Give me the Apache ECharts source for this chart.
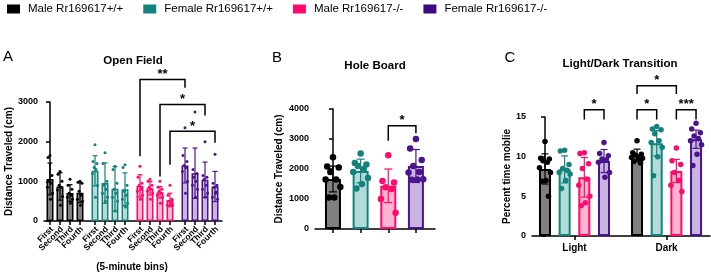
<!DOCTYPE html>
<html>
<head>
<meta charset="utf-8">
<title>Rr169617 behaviour</title>
<script src="https://cdn.jsdelivr.net/npm/echarts@6/dist/echarts.min.js"></script>
</head>
<body style="margin:0">
<div id="main" style="width:711px;height:274px;"></div>
<script>
var groups = ['Male Rr169617+/+', 'Female Rr169617+/+', 'Male Rr169617-/-', 'Female Rr169617-/-'];
var bins = ['First', 'Second', 'Third', 'Fourth'];
var phases = ['Light', 'Dark'];

// Open Field, distance (cm) per 5-minute bin: [group][bin]
var ofMean = [
  [1060, 870, 705, 715],
  [1265, 955, 810, 800],
  [885, 825, 725, 530],
  [1400, 1205, 1040, 870]
];
var ofSd = [
  [400, 345, 210, 250],
  [380, 510, 560, 415],
  [280, 170, 145, 170],
  [440, 635, 445, 380]
];
var ofPoints = [
  [[1650, 1600, 1150, 1000, 950, 850, 700, 550], [1250, 1180, 1000, 900, 850, 780, 620, 400],
   [1050, 900, 800, 700, 650, 600, 550, 450], [1000, 980, 950, 750, 650, 550, 500, 400]],
  [[1920, 1500, 1450, 1350, 1300, 1200, 900, 600], [1720, 1450, 1000, 900, 800, 700, 600, 500],
   [1380, 1300, 950, 800, 700, 600, 500, 250], [1420, 1350, 900, 750, 650, 550, 450, 350]],
  [[1380, 1100, 950, 900, 800, 750, 650, 550], [1050, 1000, 900, 850, 800, 750, 700, 550],
   [1000, 850, 800, 750, 700, 650, 600, 450], [900, 650, 550, 500, 450, 400, 400, 400]],
  [[2350, 1650, 1500, 1400, 1350, 1250, 1000, 700], [2750, 1300, 1200, 1100, 1000, 900, 800, 600],
   [2000, 1150, 1100, 1050, 900, 800, 700, 600], [1680, 950, 900, 850, 730, 600, 550, 700]]
];

// Hole Board, distance (cm): [group]
var hbMean = [1667, 1933, 1440, 2100];
var hbSd = [430, 395, 560, 550];
var hbPoints = [
  [2390, 2080, 2050, 1900, 1650, 1650, 1400, 1050, 1050],
  [2520, 2200, 2150, 2100, 2000, 1900, 1700, 1500, 1350],
  [2460, 1600, 1550, 1390, 1330, 1000, 540],
  [3000, 2680, 2300, 2100, 1900, 1880, 1660, 1650, 1640]
];

// Light/Dark transition, percent time mobile: [group][phase]
var ldMean = [[8.45, 10.2], [8.4, 11.7], [7.4, 8.2], [9.45, 12.2]];
var ldSd = [[1.9, 0.75], [1.7, 1.6], [2.5, 1.45], [1.45, 1.15]];
var ldPoints = [
  [[11.9, 9.8, 9.7, 9.5, 9.3, 8.6, 8.0, 7.0, 6.9, 5.0], [12.0, 10.5, 10.3, 10.2, 10.0, 9.9, 9.8, 9.6, 9.4, 9.2]],
  [[10.8, 10.7, 9.0, 8.5, 8.3, 8.0, 7.8, 7.0, 6.0], [13.8, 13.5, 13.4, 12.9, 12.0, 11.8, 11.2, 10.0, 7.6]],
  [[10.5, 10.4, 9.1, 8.5, 7.2, 6.4, 5.0, 4.2, 3.8], [11.1, 9.5, 9.0, 8.0, 7.0, 6.4, 5.6]],
  [[11.8, 10.4, 10.1, 9.7, 9.6, 9.3, 8.0, 7.4], [14.2, 13.5, 13.0, 12.6, 12.3, 12.0, 11.5, 10.3, 8.9]]
];

// significance brackets: left bar, right bar, top, left foot, right foot, stars
var ofSig = [
  [[2, 0], [3, 0], 3570, 1630, 3360, '**'],
  [[2, 2], [3, 2], 2940, 1120, 2660, '*'],
  [[2, 3], [3, 3], 2260, 1420, 1975, '*']
];
var hbSig = [[2, 3, 3440, 2940, 3190, '*']];
var ldSig = [
  [[2, 0], [3, 0], 15.9, 14.7, 14.7, '*'],
  [[0, 1], [1, 1], 15.9, 14.7, 14.7, '*'],
  [[2, 1], [3, 1], 15.9, 14.7, 14.7, '***'],
  [[0, 1], [2, 1], 18.95, 17.9, 17.9, '*']
];

var lineColors = ['#000000', '#12837c', '#ff0a6c', '#4a148c'];
var fillColors = ['#808080', '#b4dbd8', '#ffb4cf', '#c9b5e0'];
var legendColors = ['#000000', '#12837c', '#ff0a6c', '#3d0a84'];
var FONT = 'Liberation Sans';

function posA(g, i) { return 4.5 * g + i; }
function posB(g) { return g; }
function posC(g, p) { return 4.68 * p + g; }

var jit = [0, -0.22, 0.22, -0.1, 0.12, -0.28, 0.28, 0.05, -0.16, 0.18];

var chart = echarts.init(document.getElementById('main'));

function errRenderer(cap, color, lw) {
  return function (params, api) {
    var x = api.value(0);
    var lo = api.coord([x, api.value(1)]);
    var hi = api.coord([x, api.value(2)]);
    var st = { stroke: color, lineWidth: lw };
    return { type: 'group', children: [
      { type: 'line', shape: { x1: lo[0], y1: lo[1], x2: hi[0], y2: hi[1] }, style: st },
      { type: 'line', shape: { x1: hi[0] - cap, y1: hi[1], x2: hi[0] + cap, y2: hi[1] }, style: st },
      { type: 'line', shape: { x1: lo[0] - cap, y1: lo[1], x2: lo[0] + cap, y2: lo[1] }, style: st }
    ]};
  };
}

function sigRenderer(list) {
  return function (params, api) {
    var s = list[params.dataIndex];
    var a = api.coord([api.value(0), api.value(2)]);
    var b = api.coord([api.value(1), api.value(2)]);
    var la = api.coord([api.value(0), api.value(3)]);
    var rb = api.coord([api.value(1), api.value(4)]);
    return { type: 'group', children: [
      { type: 'polyline', shape: { points: [la, a, b, rb] }, style: { stroke: '#000', lineWidth: 1.5, fill: null } },
      { type: 'text', x: (a[0] + b[0]) / 2, y: a[1] - 5,
        style: { text: s[5], font: 'bold 13px ' + FONT, fill: '#000', align: 'center', verticalAlign: 'middle' } }
    ]};
  };
}

var series = [];
function addPanel(idx, cells, barW, dot, cap, spread, bw) {
  for (var g = 0; g < 4; g++) {
    var bars = [], errs = [], pts = [];
    cells.filter(function (c) { return c.g === g; }).forEach(function (c) {
      bars.push([c.x, c.mean]);
      errs.push([c.x, c.mean - c.sd, c.mean + c.sd]);
      c.pts.forEach(function (v, j) { pts.push([c.x + jit[j % jit.length] * spread, v]); });
    });
    series.push({
      type: 'bar', name: groups[g], xAxisIndex: idx, yAxisIndex: idx, data: bars,
      barWidth: barW, barGap: '-100%', z: 2,
      itemStyle: { color: fillColors[g], borderColor: lineColors[g], borderWidth: bw }
    });
    series.push({
      type: 'custom', name: 'err' + idx + g, xAxisIndex: idx, yAxisIndex: idx, data: errs, z: 3,
      encode: { x: 0, y: [1, 2] }, renderItem: errRenderer(cap, lineColors[g], 1.2)
    });
    series.push({
      type: 'scatter', name: 'pts' + idx + g, xAxisIndex: idx, yAxisIndex: idx, data: pts, z: 4,
      symbolSize: dot, clip: false, itemStyle: { color: lineColors[g], opacity: 1 }
    });
  }
}

var cellsA = [], cellsB = [], cellsC = [];
for (var g = 0; g < 4; g++) {
  for (var i = 0; i < 4; i++) cellsA.push({ g: g, x: posA(g, i), mean: ofMean[g][i], sd: ofSd[g][i], pts: ofPoints[g][i] });
  cellsB.push({ g: g, x: posB(g), mean: hbMean[g], sd: hbSd[g], pts: hbPoints[g] });
  for (var p = 0; p < 2; p++) cellsC.push({ g: g, x: posC(g, p), mean: ldMean[g][p], sd: ldSd[g][p], pts: ldPoints[g][p] });
}
addPanel(0, cellsA, 7, 3, 2.5, 0.9, 1.5);
addPanel(1, cellsB, 16, 6.5, 4, 0.95, 2);
addPanel(2, cellsC, 12, 5.5, 3.5, 1.0, 2);

series.push({ type: 'custom', name: 'sigA', xAxisIndex: 0, yAxisIndex: 0, z: 5, clip: false,
  data: ofSig.map(function (s) { return [posA(s[0][0], s[0][1]), posA(s[1][0], s[1][1]), s[2], s[3], s[4]]; }),
  renderItem: sigRenderer(ofSig) });
series.push({ type: 'custom', name: 'sigB', xAxisIndex: 1, yAxisIndex: 1, z: 5, clip: false,
  data: hbSig.map(function (s) { return [posB(s[0]), posB(s[1]), s[2], s[3], s[4]]; }),
  renderItem: sigRenderer(hbSig) });
series.push({ type: 'custom', name: 'sigC', xAxisIndex: 2, yAxisIndex: 2, z: 5, clip: false,
  data: ldSig.map(function (s) { return [posC(s[0][0], s[0][1]), posC(s[1][0], s[1][1]), s[2], s[3], s[4]]; }),
  renderItem: sigRenderer(ldSig) });

var ticksA = [], ticksB = [], ticksC = [], namesA = [];
for (var g2 = 0; g2 < 4; g2++) {
  for (var i2 = 0; i2 < 4; i2++) { ticksA.push(posA(g2, i2)); namesA.push(bins[i2]); }
  ticksB.push(posB(g2));
}
ticksC = phases.map(function (n, p) { return (posC(0, p) + posC(3, p)) / 2; });

// rotated bin labels under panel A, placed through the axis scale
series.push({ type: 'custom', name: 'binLabels', xAxisIndex: 0, yAxisIndex: 0, z: 5, clip: false,
  data: ticksA.map(function (x) { return [x, 0]; }),
  renderItem: function (params, api) {
    var pt = api.coord([api.value(0), 0]);
    return { type: 'text', x: pt[0] + 2, y: pt[1] + 7, rotation: Math.PI / 4,
      style: { text: namesA[params.dataIndex], font: 'bold 8.5px ' + FONT, fill: '#000', align: 'right', verticalAlign: 'middle' } };
  } });

var axisLineStyle = { color: '#000', width: 1.5 };
function xAxisBase(idx, min, max, ticks, label) {
  return {
    gridIndex: idx, type: 'value', min: min, max: max,
    splitLine: { show: false },
    axisLine: { onZero: false, lineStyle: axisLineStyle },
    axisTick: { customValues: ticks, length: 4, lineStyle: axisLineStyle },
    axisLabel: label
  };
}
function yAxisBase(idx, max, interval, name, gap) {
  return {
    gridIndex: idx, type: 'value', min: 0, max: max, interval: interval,
    splitLine: { show: false },
    axisLine: { show: true, lineStyle: axisLineStyle },
    axisTick: { show: true, length: 4, lineStyle: axisLineStyle },
    axisLabel: { color: '#000', fontWeight: 'bold', fontSize: 9, margin: 6, fontFamily: FONT,
      formatter: function (v) { return String(v); } },
    name: name, nameLocation: 'middle', nameGap: gap,
    nameTextStyle: { color: '#000', fontWeight: 'bold', fontSize: 10, fontFamily: FONT }
  };
}

function nearestLabel(v, ticks, names) {
  for (var k = 0; k < ticks.length; k++) if (Math.abs(ticks[k] - v) < 1e-6) return names[k];
  return '';
}

function txt(t, x, y, size, weight) {
  return { type: 'text', x: x, y: y, style: { text: t, font: weight + ' ' + size + 'px ' + FONT, fill: '#000', align: 'center', verticalAlign: 'middle' } };
}

chart.setOption({
  animation: false,
  textStyle: { fontFamily: FONT },
  legend: {
    top: 3, left: 7, itemWidth: 13, itemHeight: 9, itemGap: 20, icon: 'rect', padding: 0,
    textStyle: { fontSize: 11.5, color: '#000', padding: [0, 0, 0, 3] },
    data: groups.map(function (n, g) { return { name: n, itemStyle: { color: legendColors[g], borderWidth: 0 } }; })
  },
  grid: [
    { left: 44, top: 102, width: 178, height: 119 },
    { left: 315, top: 109, width: 120, height: 120 },
    { left: 532, top: 117, width: 178, height: 119 }
  ],
  xAxis: [
    xAxisBase(0, -0.6, 17.2, ticksA, { show: false }),
    xAxisBase(1, -0.65, 3.69, ticksB, { show: false }),
    xAxisBase(2, -0.66, 8.39, ticksC, {
      customValues: ticksC, margin: 7, color: '#000', fontWeight: 'bold', fontSize: 10,
      formatter: function (v) { return nearestLabel(v, ticksC, phases); }
    })
  ],
  yAxis: [
    yAxisBase(0, 3000, 1000, 'Distance Traveled (cm)', 30),
    yAxisBase(1, 4000, 1000, 'Distance Traveled (cm)', 31),
    yAxisBase(2, 15, 5, 'Percent time moblie', 20)
  ],
  graphic: [
    txt('A', 8, 57, 15, 'normal'),
    txt('B', 277, 58, 15, 'normal'),
    txt('C', 510, 58, 15, 'normal'),
    txt('Open Field', 133, 61, 11.5, 'bold'),
    txt('Hole Board', 375, 66, 11.5, 'bold'),
    txt('Light/Dark Transition', 620, 64, 11.5, 'bold'),
    txt('(5-minute bins)', 132, 267, 10, 'bold')
  ],
  series: series
});
</script>
</body>
</html>
